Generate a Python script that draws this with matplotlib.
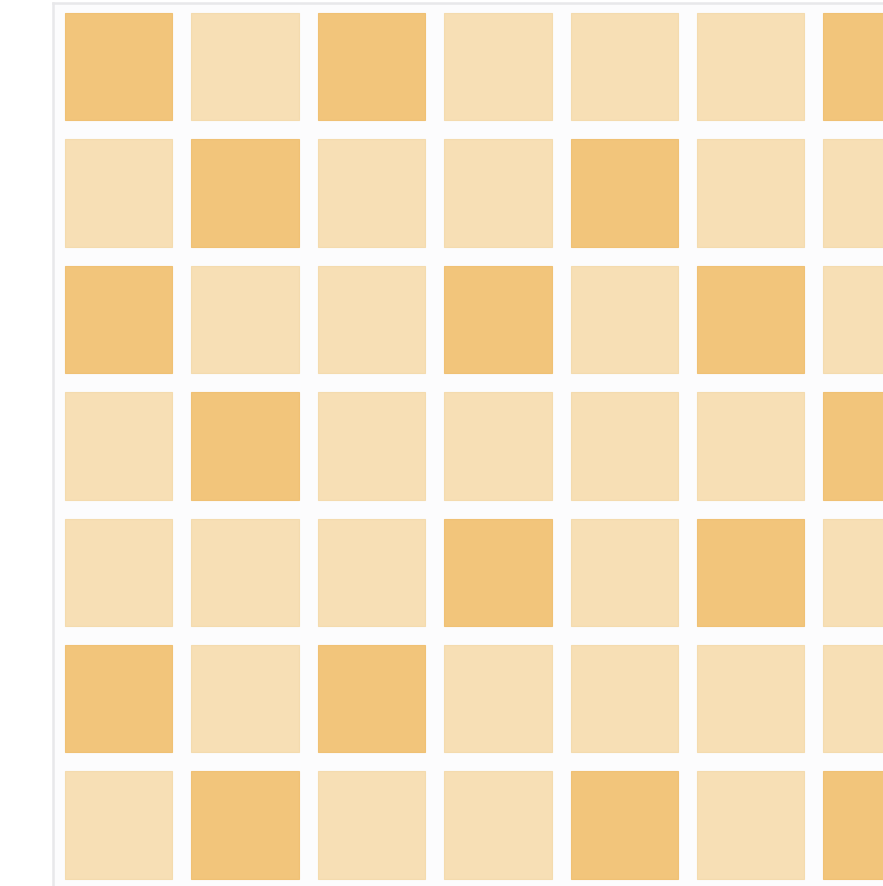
import matplotlib
matplotlib.use("Agg")
import matplotlib.pyplot as plt
from matplotlib.patches import Rectangle

# 1 = dark tile, 0 = light tile (rows top to bottom)
rows = ["r1", "r2", "r3", "r4", "r5", "r6", "r7"]
cols = ["c1", "c2", "c3", "c4", "c5", "c6", "c7"]
row1 = [1, 0, 1, 0, 0, 0, 1]
row2 = [0, 1, 0, 0, 1, 0, 0]
row3 = [1, 0, 0, 1, 0, 1, 0]
row4 = [0, 1, 0, 0, 0, 0, 1]
row5 = [0, 0, 0, 1, 0, 1, 0]
row6 = [1, 0, 1, 0, 0, 0, 0]
row7 = [0, 1, 0, 0, 1, 0, 1]
values = [row1, row2, row3, row4, row5, row6, row7]

colors = {0: "#f7dfb5", 1: "#f2c57b"}
edges = {0: "#f4dbae", 1: "#f0c174"}

W, H = 883, 886
fig = plt.figure(figsize=(W / 100, H / 100), dpi=100)
fig.patch.set_facecolor("white")

unit = 126.4  # px per cell
x0, x1 = -0.02, 8.0
y0, y1 = -0.004, 8.0
left_px, top_px = 53, 3
aw = (x1 - x0) * unit
ah = (y1 - y0) * unit
ax = fig.add_axes([left_px / W, 1 - (top_px + ah) / H, aw / W, ah / H])
ax.set_xlim(x0, x1)
ax.set_ylim(y1, y0)
ax.set_facecolor("#fcfcfd")
for s in ["right", "bottom"]:
    ax.spines[s].set_visible(False)
for s in ["left", "top"]:
    ax.spines[s].set_color("#e8e8ea")
    ax.spines[s].set_linewidth(1.8)
ax.set_xticks([])
ax.set_yticks([])

tile = 0.85
pad = (1 - tile) / 2
for r, row in enumerate(values):
    for c, v in enumerate(row):
        ax.add_patch(Rectangle((c + pad, r + pad), tile, tile,
                               facecolor=colors[v], edgecolor=edges[v], lw=0.8))

fig.savefig("out.png", dpi=100)
